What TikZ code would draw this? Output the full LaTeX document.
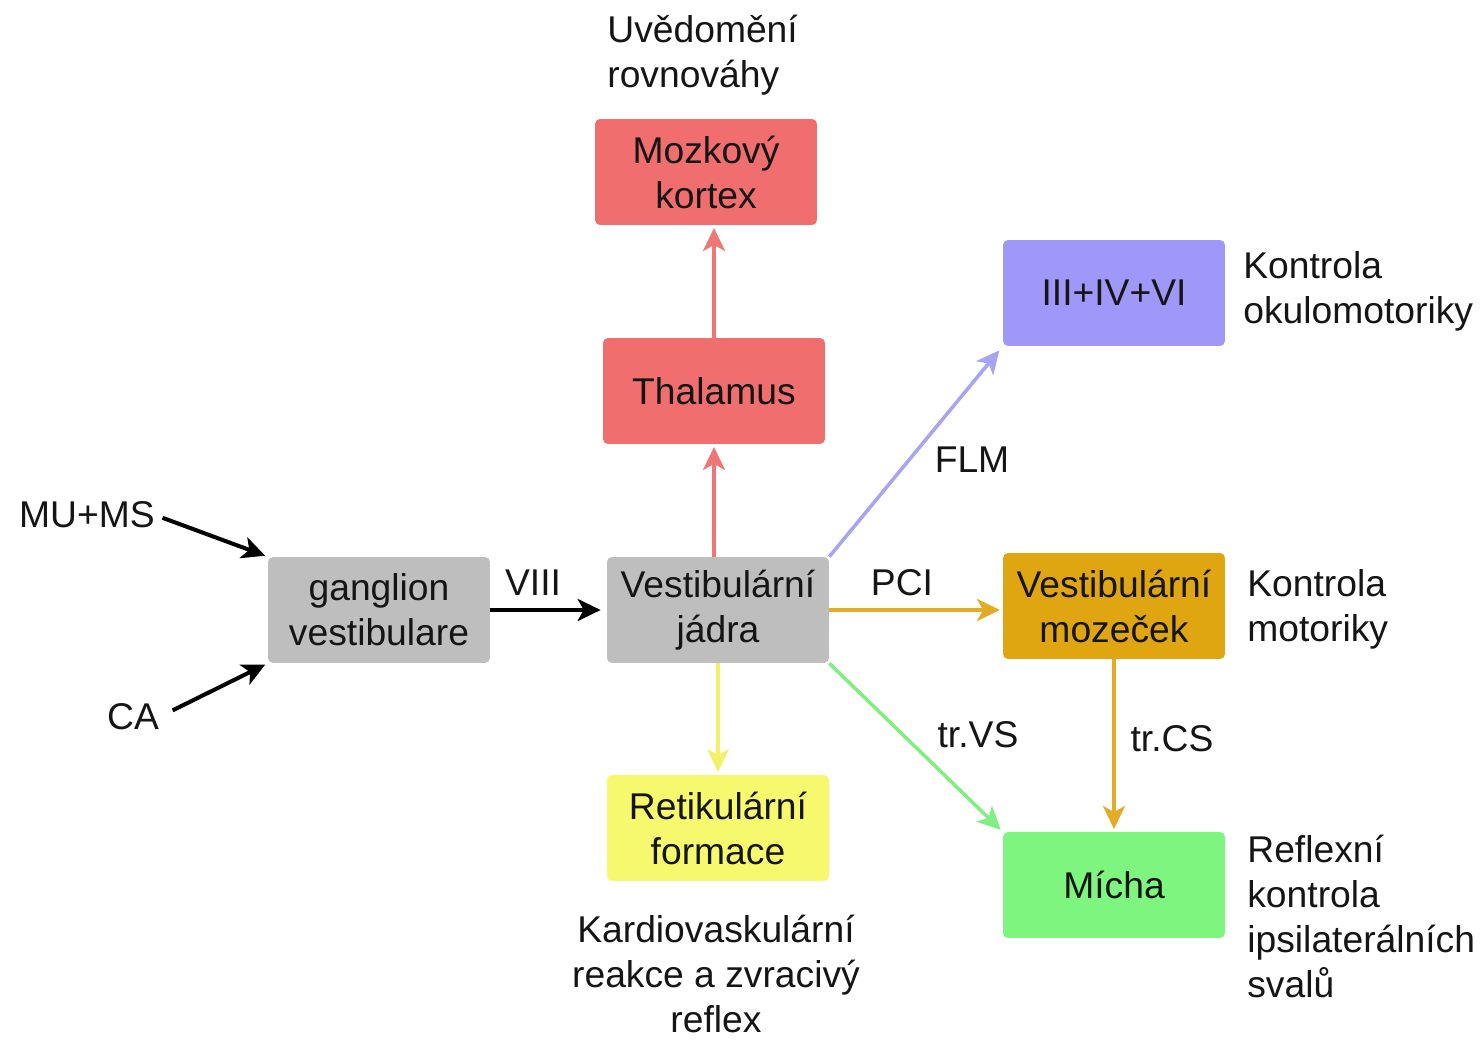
\documentclass[tikz,border=0pt]{standalone}
\usepackage{fontspec}
\setmainfont{Liberation Sans}
\usetikzlibrary{arrows.meta}
\definecolor{cRed}{HTML}{F06E6E}
\definecolor{cPurple}{HTML}{A098F8}
\definecolor{cGray}{HTML}{BEBEBE}
\definecolor{cGold}{HTML}{E0A611}
\definecolor{cYellow}{HTML}{F6F86E}
\definecolor{cGreen}{HTML}{7EF57E}
\definecolor{aRed}{HTML}{F07676}
\definecolor{aPurple}{HTML}{A8A3F2}
\definecolor{aGold}{HTML}{E2AC28}
\definecolor{aYellow}{HTML}{F2F26A}
\definecolor{aGreen}{HTML}{80EE80}
\definecolor{txt}{HTML}{151515}
\begin{document}
\begin{tikzpicture}[x=0.02cm,y=-0.02cm,
  box/.style={rectangle, rounded corners=0.1cm, minimum width=4.44cm, minimum height=2.12cm,
    align=center, inner sep=0pt, text=txt, font=\fontsize{21.2}{25.6}\selectfont},
  lbl/.style={font=\fontsize{21.2}{25.6}\selectfont, inner sep=0pt, text=txt},
  arr/.style={line width=2pt, -{Stealth[length=0.46cm,width=0.44cm,inset=0.12cm]}, shorten >=1.5pt},
  karr/.style={arr, black, line width=2.3pt}
]
\useasboundingbox (0,0) rectangle (1484,1040);
\fill[white] (0,0) rectangle (1484,1040);

% boxes
\node[box, fill=cRed] (kortex) at (706,172) {Mozkový\\kortex};
\node[box, fill=cRed] (thal) at (714,391) {Thalamus};
\node[box, fill=cPurple] (oko) at (1114,293) {III+IV+VI};
\node[box, fill=cGray] (gang) at (379,610) {ganglion\\vestibulare};
\node[box, fill=cGray] (jadra) at (718,610) {Vestibulární\\jádra};
\node[box, fill=cGold] (moz) at (1114,606) {Vestibulární\\mozeček};
\node[box, fill=cYellow] (ret) at (718,828) {Retikulární\\formace};
\node[box, fill=cGreen] (micha) at (1114,885) {Mícha};

% side labels
\node[lbl, anchor=west, align=left] (uved) at (607,55) {Uvědomění\\rovnováhy};
\node[lbl, anchor=west, align=left] (kok) at (1243,291) {Kontrola\\okulomotoriky};
\node[lbl, anchor=west, align=left] (kmot) at (1247,609) {Kontrola\\motoriky};
\node[lbl, anchor=west, align=left] (refl) at (1247,916) {Reflexní\\kontrola\\ipsilaterálních\\svalů};
\node[lbl, align=center] (kard) at (716,974) {Kardiovaskulární\\reakce a zvracivý\\reflex};
\node[lbl, anchor=east] (mums) at (155,515) {MU+MS};
\node[lbl] (ca) at (133,717) {CA};

% connector labels
\node[lbl] (flm) at (972,460) {FLM};
\node[lbl] (pci) at (902,583) {PCI};
\node[lbl] (viii) at (533,583) {VIII};
\node[lbl] (trvs) at (978,735) {tr.VS};
\node[lbl] (trcs) at (1172,739) {tr.CS};

% connectors
\draw[karr, shorten <=0.16cm] (mums.east) -- (gang.north west);
\draw[karr, shorten <=0.3cm] (ca.east) -- (gang.south west);
\draw[karr, shorten >=0.12cm] (gang.east) -- (jadra.west);
\draw[arr, aRed] (thal.south |- jadra.north) -- (thal.south);
\draw[arr, aRed] (thal.north) -- (thal.north |- kortex.south);
\draw[arr, aPurple, shorten >=3pt] (jadra.north east) -- (oko.south west);
\draw[arr, aGold] (jadra.east) -- (jadra.east -| moz.west);
\draw[arr, aYellow] (jadra.south) -- (ret.north);
\draw[arr, aGreen] (jadra.south east) -- (micha.north west);
\draw[arr, aGold] (moz.south) -- (micha.north);
\end{tikzpicture}
\end{document}
